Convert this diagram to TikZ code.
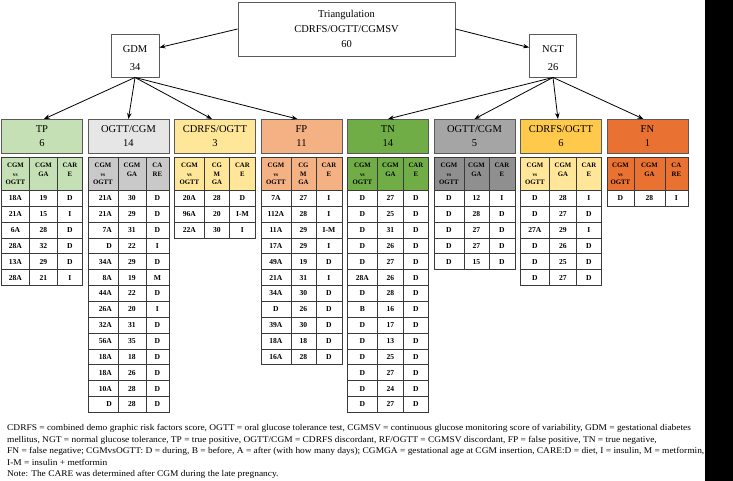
\documentclass[tikz,border=0pt]{standalone}
\usepackage{fontspec}
\setmainfont{Liberation Serif}
\newfontfamily\capfont[FakeStretch=1.07]{Liberation Serif}
\usetikzlibrary{arrows.meta,calc}
\definecolor{tpc}{HTML}{C5E0B4}
\definecolor{ogc}{HTML}{E7E6E6}
\definecolor{oghc}{HTML}{C9C9C9}
\definecolor{cdc}{HTML}{FFE699}
\definecolor{fpc}{HTML}{F4B183}
\definecolor{tnc}{HTML}{70AD47}
\definecolor{ogtc}{HTML}{A5A5A5}
\definecolor{ogthc}{HTML}{8F8F8F}
\definecolor{cdtc}{HTML}{FFC94B}
\definecolor{fnc}{HTML}{E97132}
\definecolor{bordc}{HTML}{5A5A5A}
\definecolor{gridc}{HTML}{3A3A3A}
\newcommand\vsx{{\fontsize{5.4}{6}\selectfont vs}}
\tikzset{
  topbox/.style={draw=bordc, line width=0.9pt, fill=white, align=center, inner sep=0pt,
    font=\fontsize{10.5}{15}\selectfont},
  smalltxt/.style={align=center, inner sep=0pt, font=\fontsize{10.5}{18}\selectfont},
  catbox/.style={draw=bordc, line width=0.9pt, align=center, inner sep=0pt,
    minimum width=81pt, minimum height=34pt, anchor=north west,
    font=\fontsize{10.5}{14}\selectfont},
  hcell/.style={draw=gridc, line width=0.8pt, align=center, inner sep=0pt,
    minimum height=33pt, anchor=north west,
    font=\bfseries\fontsize{6.8}{8.4}\selectfont},
  dcell/.style={draw=gridc, line width=0.8pt, fill=white, inner sep=0pt,
    minimum height=15.85pt, anchor=north west,
    font=\bfseries\fontsize{7.6}{8}\selectfont},
  colone/.style={},
  arr/.style={-{Stealth[length=6pt,width=4.5pt]}, line width=0.8pt, black},
  captxt/.style={anchor=base west, inner sep=0pt, font=\capfont\fontsize{8.8}{10}\selectfont}
}
% #1 name, #2 x0, #3 w1, #4 w2, #5 header fill, #6-#8 header texts, #9 rows
\newcommand\mytable[9]{%
  \pgfmathsetmacro\wa{#3}\pgfmathsetmacro\wb{#4}\pgfmathsetmacro\wc{81-#3-#4}%
  \node[hcell,fill=#5,minimum width=\wa pt] (#1-h1) at (#2,157) {#6};
  \node[hcell,fill=#5,minimum width=\wb pt] (#1-h2) at ({#2+\wa},157) {#7};
  \node[hcell,fill=#5,minimum width=\wc pt] (#1-h3) at ({#2+\wa+\wb},157) {#8};
  \foreach \ca/\cb/\cc [count=\i] in {#9} {
    \pgfmathsetmacro\yy{190+(\i-1)*15.85}
    \node[dcell,colone,minimum width=\wa pt] (#1-\i-1) at (#2,\yy) {\ca};
    \node[dcell,minimum width=\wb pt] (#1-\i-2) at ({#2+\wa},\yy) {\cb};
    \node[dcell,minimum width=\wc pt] (#1-\i-3) at ({#2+\wa+\wb},\yy) {\cc};
  }%
}
\begin{document}
\begin{tikzpicture}[x=1pt,y=-1pt]
\useasboundingbox (0,0) rectangle (733,481);
\fill[white] (0,0) rectangle (733,481);

% top level
\node[topbox, minimum width=217pt, minimum height=54pt] (tri) at (346.5,29)
  {Triangulation\\CDRFS/OGTT/CGMSV\\60};
\node[topbox, minimum width=48pt, minimum height=43pt] (gdm) at (135,55.5) {};
\node[smalltxt] (gdmt) at (135,58) {GDM\\34};
\node[topbox, minimum width=47pt, minimum height=43pt] (ngt) at (553,55.5) {};
\node[smalltxt] (ngtt) at (553,58) {NGT\\26};

% category boxes
\node[catbox, fill=tpc]  (tp)  at (1,119)     {TP\\6};
\node[catbox, fill=ogc]  (og)  at (87.5,119)  {OGTT/CGM\\14};
\node[catbox, fill=cdc]  (cd)  at (174,119)   {CDRFS/OGTT\\3};
\node[catbox, fill=fpc]  (fp)  at (260.5,119) {FP\\11};
\node[catbox, fill=tnc]  (tn)  at (347,119)   {TN\\14};
\node[catbox, fill=ogtc] (ogt) at (433.5,119) {OGTT/CGM\\5};
\node[catbox, fill=cdtc] (cdt) at (520,119)   {CDRFS/OGTT\\6};
\node[catbox, fill=fnc]  (fn)  at (606.5,119) {FN\\1};

% arrows
\draw[arr] (tri.west) -- ([yshift=8pt]gdm.east);
\draw[arr] (tri.east) -- ([yshift=8pt]ngt.west);
\draw[arr] (gdm.south) -- ([xshift=2pt]tp.north);
\draw[arr] (gdm.south) -- (og.north);
\draw[arr] (gdm.south) -- ([xshift=-3pt]cd.north);
\draw[arr] (gdm.south) -- ([xshift=-4pt]fp.north);
\draw[arr] (ngt.south) -- (tn.north);
\draw[arr] (ngt.south) -- (ogt.north);
\draw[arr] (ngt.south) -- ([xshift=-3pt]cdt.north);
\draw[arr] (ngt.south) -- ([xshift=-4pt]fn.north);

% tables
\mytable{ttp}{1}{28}{28}{tpc}{CGM\\\vsx\\OGTT}{CGM\\GA\\~}{CAR\\E\\~}
  {18A/19/D,21A/15/I,6A/28/D,28A/32/D,13A/29/D,28A/21/I}
\begin{scope}[colone/.style={text width=\wa pt-12pt, align=right}]
\mytable{tog}{87.5}{30}{28}{oghc}{CGM\\\vsx\\OGTT}{CGM\\GA\\~}{CA\\RE\\~}
  {21A/30/D,21A/29/D,7A/31/D,D/22/I,34A/29/D,8A/19/M,44A/22/D,26A/20/I,32A/31/D,56A/35/D,18A/18/D,18A/26/D,10A/28/D,D/28/D}
\end{scope}
\mytable{tcd}{174}{30}{25}{cdc}{CGM\\\vsx\\OGTT}{CG\\M\\GA}{CAR\\E\\~}
  {20A/28/D,96A/20/I-M,22A/30/I}
\mytable{tfp}{260.5}{30}{25}{fpc}{CGM\\\vsx\\OGTT}{CG\\M\\GA}{CAR\\E\\~}
  {7A/27/I,112A/28/I,11A/29/I-M,17A/29/I,49A/19/D,21A/31/I,34A/30/D,D/26/D,39A/30/D,18A/18/D,16A/28/D}
\mytable{ttn}{347}{30}{26}{tnc}{CGM\\\vsx\\OGTT}{CGM\\GA\\~}{CAR\\E\\~}
  {D/27/D,D/25/D,D/31/D,D/26/D,D/27/D,28A/26/D,D/28/D,B/16/D,D/17/D,D/13/D,D/25/D,D/27/D,D/24/D,D/27/D}
\mytable{togt}{433.5}{30}{25}{ogthc}{CGM\\\vsx\\OGTT}{CGM\\GA\\~}{CAR\\E\\~}
  {D/12/I,D/28/D,D/27/D,D/27/D,D/15/D}
\mytable{tcdt}{520}{29}{27}{cdc}{CGM\\\vsx\\OGTT}{CGM\\GA\\~}{CAR\\E\\~}
  {D/28/I,D/27/D,27A/29/I,D/26/D,D/25/D,D/27/D}
\mytable{tfn}{606.5}{27}{31}{fnc}{CGM\\\vsx\\OGTT}{CGM\\GA\\~}{CA\\RE\\~}
  {D/28/I}

% caption
\node[captxt] (cap1) at (7,430.5) {CDRFS = combined demo graphic risk factors score, OGTT = oral glucose tolerance test, CGMSV = continuous glucose monitoring score of variability, GDM = gestational diabetes};
\node[captxt] (cap2) at (7,442) {mellitus, NGT = normal glucose tolerance, TP = true positive, OGTT/CGM = CDRFS discordant, RF/OGTT = CGMSV discordant, FP = false positive, TN = true negative,};
\node[captxt] (cap3) at (7,453.5) {FN = false negative; CGMvsOGTT: D = during, B = before, A = after (with how many days); CGMGA = gestational age at CGM insertion, CARE:D = diet, I = insulin, M = metformin,};
\node[captxt] (cap4) at (7,465) {I-M = insulin + metformin};
\node[captxt] (cap5) at (7,476.5) {Note: The CARE was determined after CGM during the late pregnancy.};
\fill[black] (705,0) rectangle (733,481);
\end{tikzpicture}
\end{document}
